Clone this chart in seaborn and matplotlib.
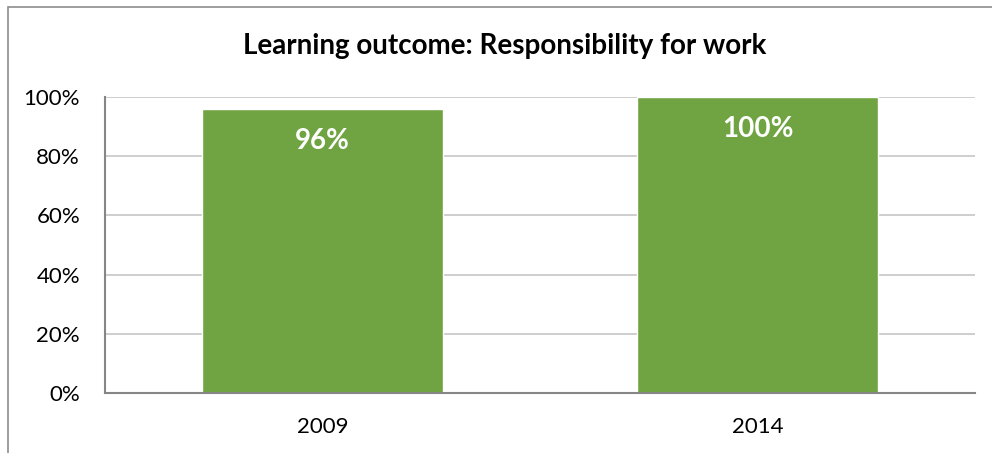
import matplotlib
matplotlib.use('Agg')
import matplotlib.pyplot as plt
import matplotlib.patches as mpatches
import pandas as pd
import seaborn as sns

# ─── Data ─────────────────────────────────────────────────────────────────────

years = ['2009', '2014']
shares = [96, 100]
tick_values = [0, 20, 40, 60, 80, 100]
tick_labels = ['0%', '20%', '40%', '60%', '80%', '100%']
title = 'Learning outcome: Responsibility for work'

BAR_GREEN = '#70A442'
GRID_GREY = '#C6C6C6'
AXIS_GREY = '#868686'

# ─── Plot ─────────────────────────────────────────────────────────────────────

sns.set_theme(style='white')
plt.rcParams['font.family'] = ['Lato', 'DejaVu Sans']

df = pd.DataFrame({'year': years, 'share': shares})

fig = plt.figure(figsize=(9.92, 4.53), dpi=100)
ax = fig.add_axes([105 / 992, 1 - 393 / 453, 870 / 992, 296 / 453])

sns.barplot(data=df, x='year', y='share', color=BAR_GREEN, saturation=1,
            width=0.554, ax=ax, zorder=2)

ax.set_ylim(0, 100)
ax.set_yticks(tick_values)
ax.set_yticklabels(tick_labels, fontsize=16, color='black')
ax.tick_params(axis='x', labelsize=16, labelcolor='black', pad=17, length=0)
ax.tick_params(axis='y', pad=18, length=0)
ax.set_xlabel('')
ax.set_ylabel('')

ax.yaxis.grid(True, color=GRID_GREY, linewidth=1.2, zorder=0)
ax.set_axisbelow(True)
for side in ['top', 'right']:
    ax.spines[side].set_visible(False)
for side in ['left', 'bottom']:
    ax.spines[side].set_color(AXIS_GREY)
    ax.spines[side].set_linewidth(1.5)

for bar, val in zip(ax.patches, shares):
    ax.annotate(f'{val}%', (bar.get_x() + bar.get_width() / 2, bar.get_height()),
                xytext=(0, -32), textcoords='offset pixels',
                ha='center', va='center', color='white',
                fontsize=20, fontweight='bold')

fig.text(505 / 992, 1 - 46 / 453, title,
         ha='center', va='center', fontsize=20, fontweight='bold', color='black')

# outer chart frame (only top and left edges are inside the crop)
frame = mpatches.Rectangle((7.5 / 992, -0.1), 1.2, 1.1 - 7.5 / 453,
                           transform=fig.transFigure, fill=False,
                           edgecolor='#8C8C8C', linewidth=1.2, clip_on=False)
fig.patches.append(frame)

fig.savefig('out.png', dpi=100, facecolor='white')
